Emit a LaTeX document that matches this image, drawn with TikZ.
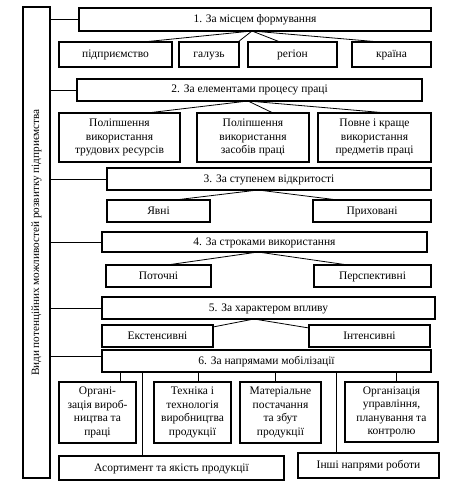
\documentclass[tikz,border=0pt]{standalone}
\usepackage{fontspec}
\setmainfont{Liberation Serif}
\usetikzlibrary{calc}
\begin{document}
\begin{tikzpicture}[x=1pt,y=-1pt,
  box/.style={draw, line width=1.1pt, inner sep=0pt, outer sep=0pt, align=center,
    font=\fontsize{11.5}{13.5}\selectfont},
  one/.style={text height=8.5pt, text depth=2.5pt},
  conn/.style={line width=0.8pt}]
\useasboundingbox (0,0) rectangle (462,484);
% left vertical box
\node[box, minimum width=27pt, minimum height=471pt] (L) at (36.5,242.5) {};
\node[rotate=90, font=\fontsize{11.2}{13}\selectfont] (Lt) at (L.center) {Види потенційних можливостей розвитку підприємства};
% group 1
\node[box, one, minimum width=352pt, minimum height=23pt] (b1) at (255,19.5) {1. За місцем формування};
\node[box, one, minimum width=113pt, minimum height=25pt] (p1) at (115.5,54.5) {підприємство};
\node[box, one, minimum width=60pt, minimum height=25pt] (p2) at (209,54.5) {галузь};
\node[box, one, minimum width=89pt, minimum height=25pt] (p3) at (292.5,54.5) {регіон};
\node[box, one, minimum width=79pt, minimum height=25pt] (p4) at (391.5,54.5) {країна};
% group 2
\node[box, one, minimum width=345pt, minimum height=22pt] (b2) at (249.5,90) {2. За елементами процесу праці};
\node[box, minimum width=121pt, minimum height=49pt] (q1) at (119.5,137.5) {Поліпшення\\використання\\трудових ресурсів};
\node[box, minimum width=112pt, minimum height=49pt] (q2) at (253,137.5) {Поліпшення\\використання\\засобів праці};
\node[box, minimum width=113pt, minimum height=49pt] (q3) at (374.5,137.5) {Повне і краще\\використання\\предметів праці};
% group 3
\node[box, one, minimum width=324pt, minimum height=22pt] (b3) at (269,179) {3. За ступенем відкритості};
\node[box, one, minimum width=103pt, minimum height=22pt] (r1) at (158.5,211) {Явні};
\node[box, one, minimum width=118pt, minimum height=22pt] (r2) at (372,211) {Приховані};
% group 4
\node[box, one, minimum width=325pt, minimum height=20pt] (b4) at (264.5,242) {4. За строками використання};
\node[box, one, minimum width=105pt, minimum height=22pt] (s1) at (158.5,276) {Поточні};
\node[box, one, minimum width=117pt, minimum height=22pt] (s2) at (372.5,276) {Перспективні};
% group 5
\node[box, one, minimum width=333pt, minimum height=22pt] (b5) at (268.5,308) {5. За характером впливу};
\node[box, one, minimum width=111pt, minimum height=22pt] (t1) at (157.5,336) {Екстенсивні};
\node[box, one, minimum width=121pt, minimum height=22pt] (t2) at (369.5,336) {Інтенсивні};
% group 6
\node[box, one, minimum width=329pt, minimum height=22pt] (b6) at (266.5,361) {6. За напрямами мобілізації};
\node[box, minimum width=77pt, minimum height=61pt] (u1) at (97.5,412.5) {Органі-\\зація вироб-\\ництва та\\праці};
\node[box, minimum width=77pt, minimum height=61pt] (u2) at (192.5,412.5) {Техніка і\\технологія\\виробництва\\продукції};
\node[box, minimum width=81pt, minimum height=61pt] (u3) at (280.5,412.5) {Матеріальне\\постачання\\та збут\\продукції};
\node[box, minimum width=93pt, minimum height=60pt] (u4) at (391.5,412) {Організація\\управління,\\планування та\\контролю};
\node[box, one, minimum width=225pt, minimum height=24pt] (v1) at (171.5,468) {Асортимент та якість продукції};
\node[box, one, minimum width=141pt, minimum height=25pt] (v2) at (368.5,465.5) {Інші напрями роботи};

% connectors from left box
\foreach \b in {b1,b2,b3,b4,b5} \draw[conn] (\b.west) -- (\b.west -| L.east);
\coordinate (b6w) at ([yshift=5pt]b6.west);
\draw[conn] (b6w) -- (b6w -| L.east);

% group 1 connectors
\coordinate (o1) at ([xshift=-3pt]b1.south);
\draw[conn] (o1) -- ([xshift=27.5pt]p1.north);
\draw[conn] (o1) -- ([xshift=-1pt]p2.north east);
\draw[conn] (o1) -- ([xshift=-12.5pt]p3.north);
\draw[conn] (o1) -- ([xshift=-11.5pt]p4.north);
% group 2
\coordinate (o2) at ([xshift=-1.5pt]b2.south);
\draw[conn] (o2) -- ([xshift=27.5pt]q1.north);
\draw[conn] (o2) -- ([xshift=20pt]q2.north);
\draw[conn] (o2) -- ([xshift=12.5pt]q3.north);
% group 3
\coordinate (o3) at ([xshift=-11pt]b3.south);
\draw[conn] (o3) -- ([xshift=16.5pt]r1.north);
\draw[conn] (o3) -- ([xshift=-34pt]r2.north);
% group 4
\coordinate (o4) at ([xshift=-6.5pt]b4.south);
\draw[conn] (o4) -- ([xshift=8.5pt]s1.north);
\draw[conn] (o4) -- ([xshift=-24.5pt]s2.north);
% group 5
\coordinate (o5) at ([xshift=-14.5pt]b5.south);
\draw[conn] (o5) -- ([yshift=-2pt]t1.north east);
\draw[conn] (o5) -- ([yshift=-3pt]t2.north west);
% group 6
\coordinate (c1) at ([xshift=22.5pt]u1.north);
\coordinate (c2) at ([xshift=5.5pt]u2.north);
\coordinate (c3) at ([xshift=-5.5pt]u3.north);
\coordinate (c4) at ([xshift=4.5pt]u4.north);
\coordinate (c5) at ([xshift=-29.5pt]v1.north);
\coordinate (c6) at ([xshift=-32.5pt]v2.north);
\foreach \c in {c1,c2,c3,c4,c5,c6} \draw[conn] (\c) -- (\c |- b6.south);
\end{tikzpicture}
\end{document}
